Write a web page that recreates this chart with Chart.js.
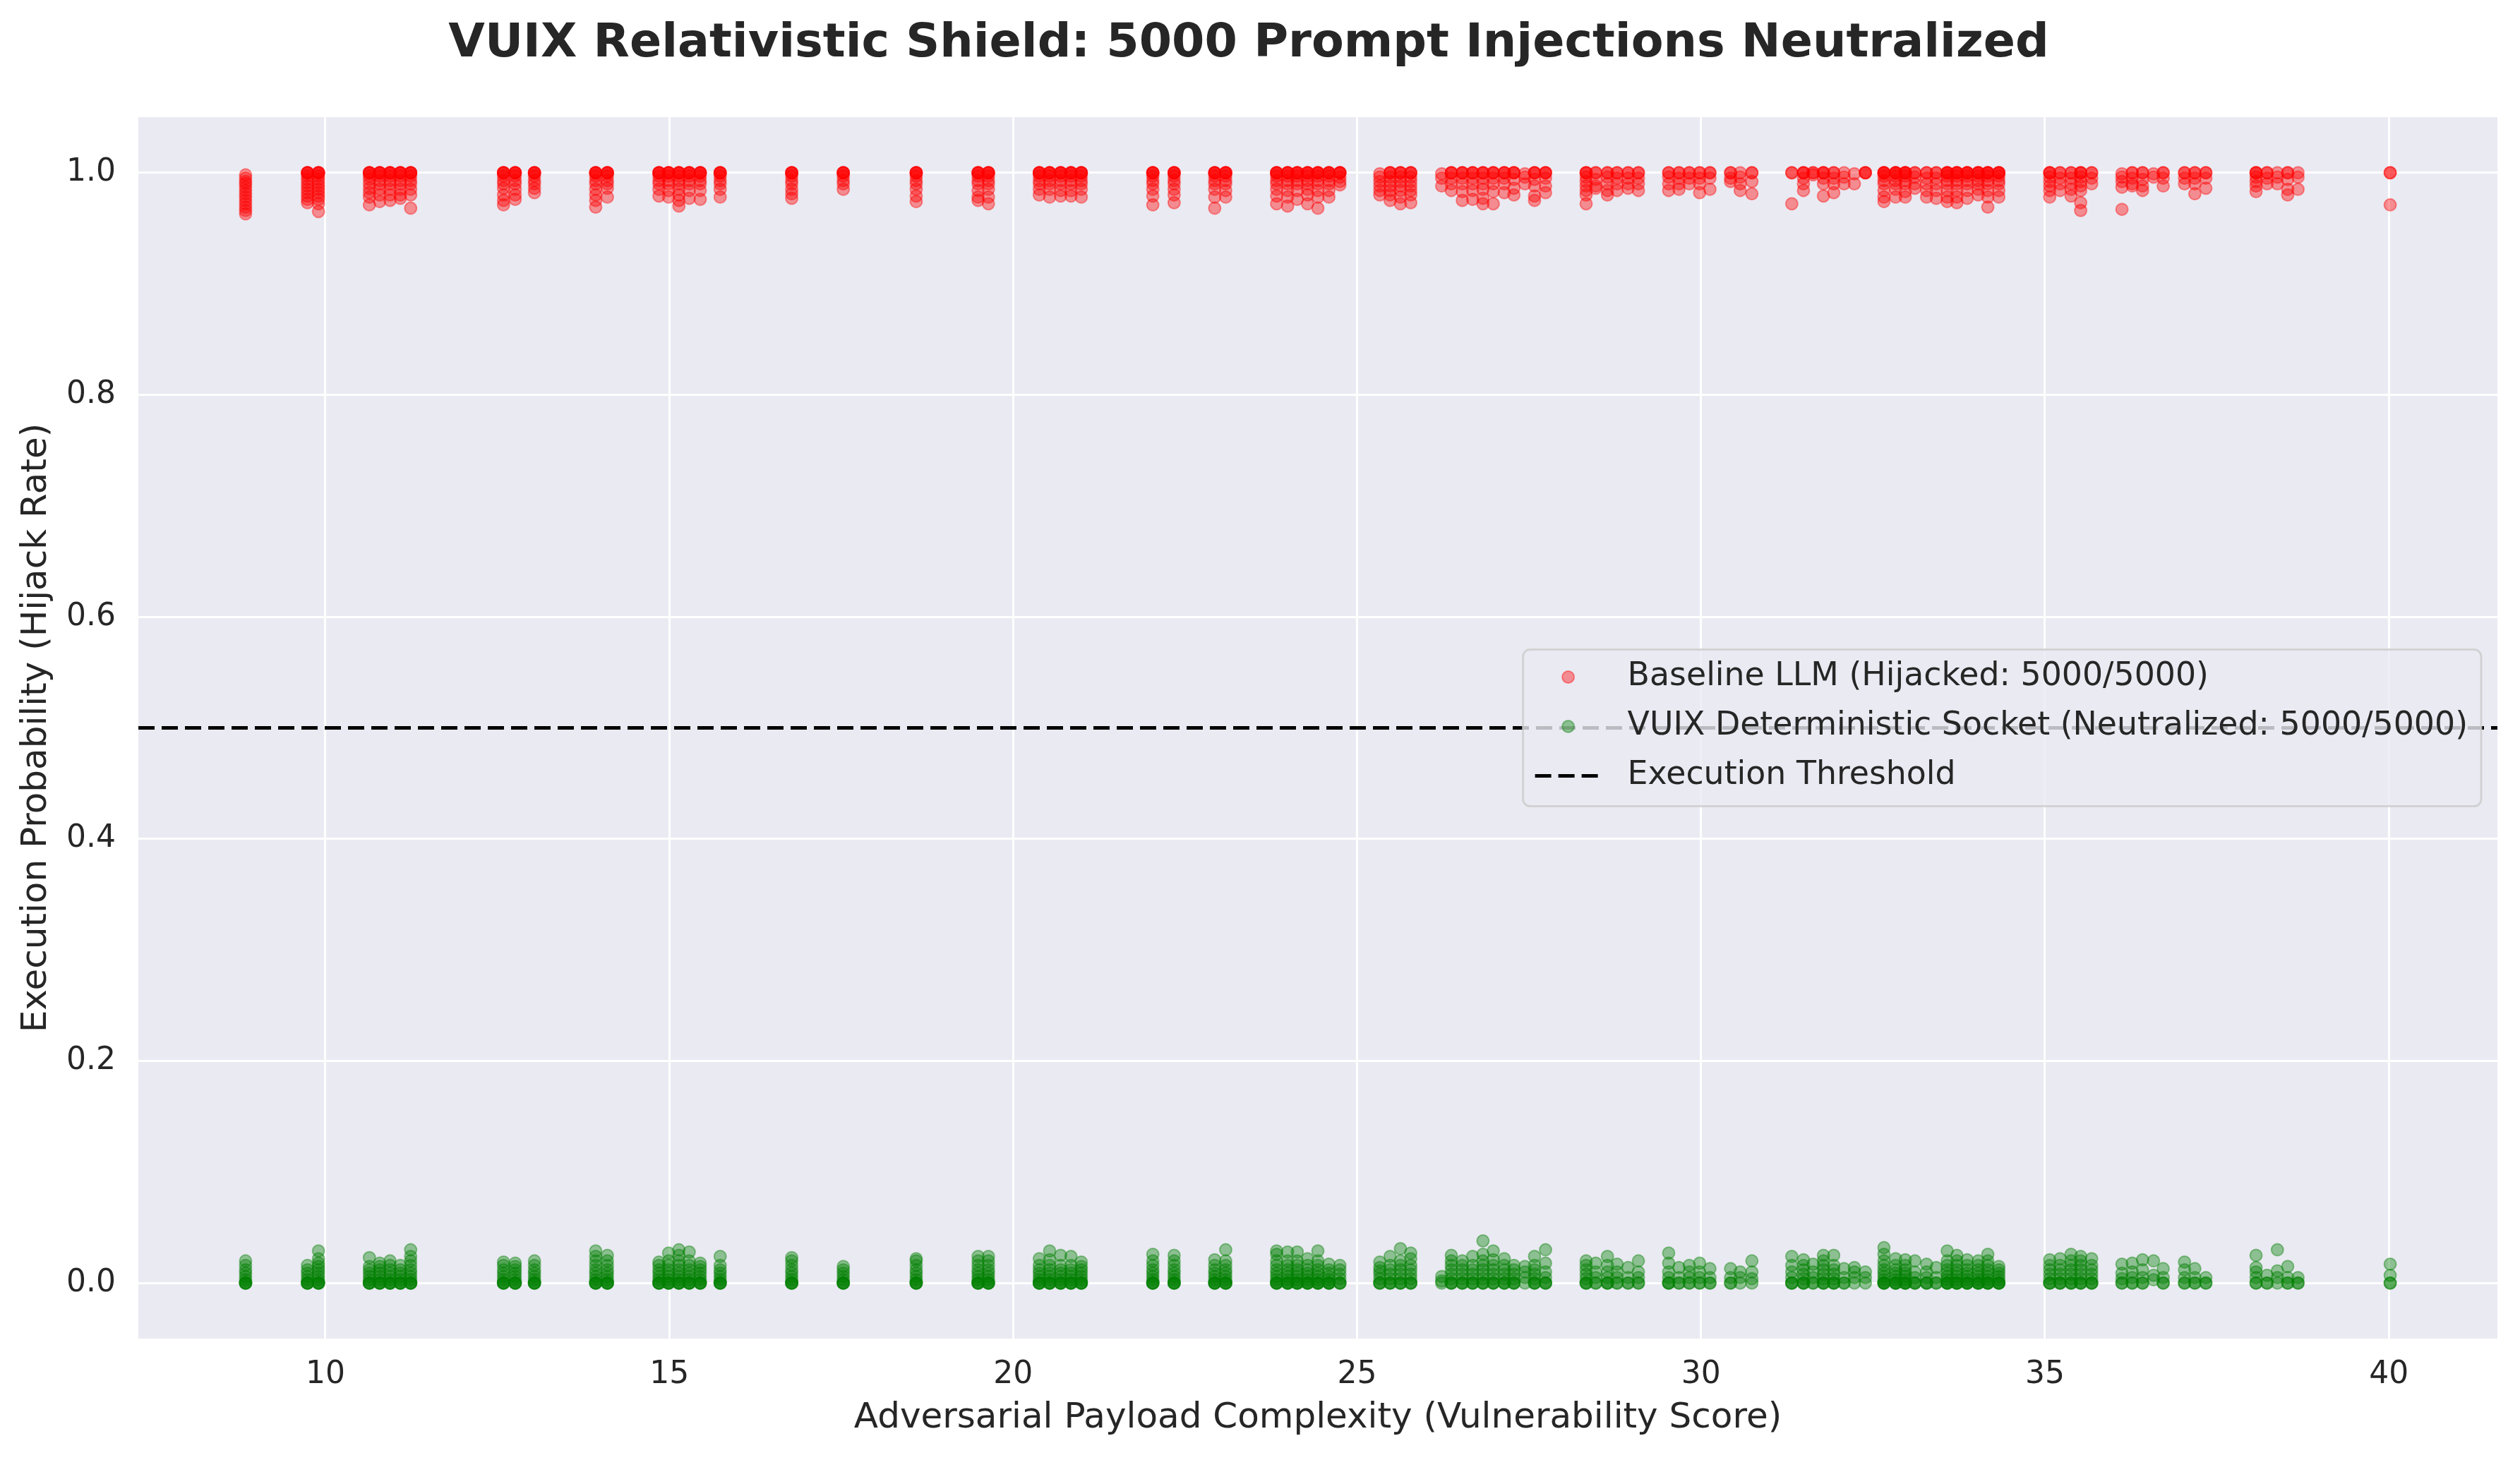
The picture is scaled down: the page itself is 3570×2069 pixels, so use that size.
<!DOCTYPE html>
<html>
<head>
<meta charset="utf-8">
<script src="https://cdn.jsdelivr.net/npm/chart.js@4.4.1/dist/chart.umd.min.js"></script>
<style>
  html, body { margin: 0; padding: 0; background: #ffffff; }
  #wrap { width: 3570px; height: 2069px; }
</style>
</head>
<body>
<div id="wrap"><canvas id="shield-chart"></canvas></div>
<script>
// vulnerability scores (x positions of the clusters)
var scores = [
  8.84, 9.74, 9.90, 10.64, 10.79, 10.94, 11.09, 11.24, 12.59, 12.76,
  13.04, 13.93, 14.10, 14.85, 14.99, 15.14, 15.29, 15.45, 15.74, 16.78,
  17.53, 18.59, 19.49, 19.64, 20.38, 20.53, 20.69, 20.84, 20.99, 22.03,
  22.34, 22.93, 23.09, 23.83, 23.99, 24.13, 24.28, 24.43, 24.59, 24.75,
  25.33, 25.48, 25.63, 25.78, 26.23, 26.37, 26.53, 26.68, 26.83, 26.98,
  27.14, 27.28, 27.44, 27.58, 27.74, 28.33, 28.47, 28.64, 28.78, 28.94,
  29.09, 29.53, 29.68, 29.83, 29.98, 30.13, 30.43, 30.57, 30.74, 31.32,
  31.49, 31.63, 31.78, 31.93, 32.08, 32.23, 32.39, 32.66, 32.83, 32.97,
  33.11, 33.28, 33.42, 33.58, 33.72, 33.87, 34.03, 34.17, 34.33, 35.07,
  35.22, 35.38, 35.52, 35.68, 36.12, 36.27, 36.42, 36.58, 36.72, 37.03,
  37.18, 37.34, 38.07, 38.23, 38.38, 38.53, 38.68, 40.02
];

// baseline LLM hijack rates, one list per score
var baselineRates = [
  [0.998,0.995,0.992,0.99,0.987,0.984,0.981,0.978,0.975,0.972,0.969,0.966,0.963], // 8.84
  [1,1,1,1,0.997,0.994,0.991,0.988,0.985,0.982,0.979,0.976,0.973],
  [1,1,1,1,0.997,0.994,0.991,0.988,0.985,0.982,0.979,0.976,0.972,0.965],
  [1,1,1,1,0.997,0.994,0.99,0.986,0.982,0.978,0.971],
  [1,1,1,1,0.997,0.993,0.99,0.985,0.98,0.974],
  [1,1,1,1,0.997,0.993,0.99,0.985,0.98,0.975],
  [1,1,1,1,0.997,0.993,0.99,0.985,0.98,0.977],
  [1,1,1,1,0.997,0.993,0.99,0.985,0.98,0.968],
  [1,1,1,1,0.997,0.993,0.99,0.986,0.98,0.975,0.971],
  [1,1,1,1,0.997,0.993,0.99,0.985,0.98,0.976], // 12.76
  [1,1,1,1,0.997,0.993,0.99,0.986,0.982],
  [1,1,1,1,0.997,0.993,0.99,0.985,0.98,0.975,0.969],
  [1,1,1,1,0.997,0.993,0.99,0.986,0.978],
  [1,1,1,1,0.997,0.993,0.99,0.985,0.979],
  [1,1,1,1,0.997,0.993,0.99,0.984,0.978],
  [1,1,1,1,0.997,0.993,0.99,0.985,0.98,0.975,0.97],
  [1,1,1,1,0.997,0.993,0.99,0.984,0.977],
  [1,1,1,1,0.997,0.993,0.99,0.984,0.976],
  [1,1,1,1,0.997,0.993,0.99,0.985,0.978],
  [1,1,1,1,0.997,0.993,0.99,0.985,0.981,0.977], // 16.78
  [1,1,1,1,0.997,0.993,0.99,0.985],
  [1,1,1,1,0.997,0.993,0.99,0.985,0.979,0.974],
  [1,1,1,1,0.997,0.993,0.99,0.984,0.978,0.975],
  [1,1,1,1,0.997,0.993,0.99,0.985,0.978,0.972],
  [1,1,1,1,0.997,0.993,0.99,0.985,0.98],
  [1,1,1,1,0.997,0.993,0.99,0.985,0.978],
  [1,1,1,1,0.997,0.993,0.99,0.984,0.979],
  [1,1,1,1,0.997,0.993,0.99,0.984,0.979],
  [1,1,1,1,0.997,0.993,0.99,0.985,0.978],
  [1,1,1,1,0.997,0.993,0.99,0.985,0.979,0.971], // 22.03
  [1,1,1,1,0.997,0.993,0.99,0.985,0.98,0.973],
  [1,1,1,1,0.997,0.993,0.99,0.985,0.978,0.968],
  [1,1,1,1,0.997,0.993,0.99,0.984,0.978],
  [1,1,1,1,0.997,0.993,0.99,0.985,0.979,0.972],
  [1,1,1,1,0.997,0.993,0.99,0.984,0.978,0.97],
  [1,1,1,1,0.997,0.993,0.99,0.984,0.976],
  [1,1,1,1,0.997,0.993,0.99,0.985,0.98,0.972],
  [1,1,1,1,0.997,0.993,0.99,0.984,0.978,0.968],
  [1,1,1,1,0.997,0.993,0.99,0.984,0.978],
  [1,1,1,1,0.996,0.992,0.989], // 24.75
  [0.999,0.996,0.992,0.988,0.984,0.98],
  [1,1,1,0.996,0.992,0.988,0.984,0.98,0.975],
  [1,1,1,0.996,0.992,0.988,0.984,0.978,0.972],
  [1,1,1,0.996,0.992,0.988,0.984,0.98,0.973],
  [0.999,0.995,0.988],
  [1,1,1,0.995,0.99,0.984],
  [1,1,1,0.995,0.99,0.983,0.975],
  [1,1,1,0.995,0.99,0.984,0.976],
  [1,1,1,0.995,0.99,0.985,0.977,0.972],
  [1,1,1,0.995,0.99,0.983,0.972], // 26.98
  [1,1,1,0.995,0.99,0.982],
  [1,1,1,0.994,0.986,0.98],
  [0.999,0.996,0.99],
  [1,1,1,0.994,0.988,0.979,0.975],
  [1,1,1,0.995,0.988,0.982],
  [1,1,1,0.996,0.992,0.988,0.984,0.98,0.972],
  [1,1,0.994,0.988,0.986],
  [1,1,0.996,0.99,0.984,0.98],
  [1,1,0.995,0.99,0.984],
  [1,1,0.995,0.99,0.986], // 28.94
  [1,1,0.995,0.99,0.984],
  [1,1,0.996,0.99,0.984],
  [1,1,0.995,0.99,0.985],
  [1,1,0.995,0.99],
  [1,1,0.995,0.99,0.982],
  [1,1,0.995,0.985],
  [1,1,0.995,0.992],
  [1,0.996,0.99,0.984],
  [1,1,0.992,0.981],
  [1,1,0.972], // 31.32
  [1,1,1,0.995,0.99,0.984],
  [1,1,0.998],
  [1,1,1,0.995,0.99,0.979],
  [1,1,0.995,0.99,0.982],
  [1,0.996,0.99],
  [0.999,0.99],
  [1,1,1],
  [1,1,1,1,0.997,0.993,0.99,0.984,0.978,0.974],
  [1,1,1,1,0.997,0.993,0.99,0.985,0.978],
  [1,1,1,1,0.997,0.993,0.99,0.983,0.978], // 32.97
  [1,1,0.996,0.99,0.986],
  [1,1,0.995,0.99,0.984,0.978],
  [1,1,0.995,0.99,0.984,0.977],
  [1,1,1,1,0.997,0.993,0.99,0.984,0.978,0.974],
  [1,1,1,1,0.997,0.993,0.99,0.984,0.978,0.973],
  [1,1,1,1,0.997,0.993,0.99,0.984,0.977],
  [1,1,1,1,0.997,0.993,0.99,0.985,0.98],
  [1,1,1,1,0.997,0.993,0.99,0.984,0.978,0.969],
  [1,1,1,1,0.997,0.993,0.99,0.984,0.978],
  [1,1,1,0.996,0.992,0.988,0.984,0.978], // 35.07
  [1,1,0.995,0.99,0.984],
  [1,1,0.995,0.99,0.985,0.979],
  [1,1,1,0.996,0.992,0.988,0.984,0.973,0.966],
  [1,1,0.995,0.99],
  [0.999,0.996,0.992,0.987,0.967],
  [1,1,0.995,0.99,0.988],
  [1,1,0.994,0.988,0.984],
  [0.999,0.996],
  [1,1,0.995,0.988],
  [1,1,0.995,0.99], // 37.03
  [1,1,0.995,0.99,0.981],
  [1,1,0.995,0.986],
  [1,1,1,0.996,0.992,0.988,0.983],
  [1,1,0.995,0.99],
  [1,0.996,0.99],
  [1,1,0.994,0.985,0.98],
  [1,0.996,0.985],
  [1,1,0.971] // 40.02
];

// VUIX socket execution rates, one list per score
var vuixRates = [
  [0,0,0,0,0.003,0.006,0.009,0.012,0.016,0.02], // 8.84
  [0,0,0,0,0.003,0.006,0.009,0.012,0.016],
  [0,0,0,0,0.003,0.006,0.009,0.012,0.015,0.018,0.022,0.029],
  [0,0,0,0,0.003,0.006,0.009,0.012,0.015,0.023],
  [0,0,0,0,0.003,0.006,0.009,0.012,0.015,0.018],
  [0,0,0,0,0.003,0.006,0.009,0.012,0.016,0.02],
  [0,0,0,0,0.003,0.006,0.009,0.012,0.016],
  [0,0,0,0,0.003,0.006,0.009,0.012,0.016,0.02,0.024,0.03],
  [0,0,0,0,0.003,0.006,0.009,0.012,0.016,0.019],
  [0,0,0,0,0.003,0.006,0.009,0.012,0.015,0.018], // 12.76
  [0,0,0,0,0.003,0.006,0.009,0.012,0.016,0.02],
  [0,0,0,0,0.003,0.006,0.009,0.012,0.016,0.02,0.024,0.029],
  [0,0,0,0,0.003,0.006,0.009,0.012,0.016,0.02,0.025],
  [0,0,0,0,0.003,0.006,0.009,0.012,0.016,0.019],
  [0,0,0,0,0.003,0.006,0.009,0.012,0.016,0.02,0.027],
  [0,0,0,0,0.003,0.006,0.009,0.012,0.016,0.02,0.025,0.03],
  [0,0,0,0,0.003,0.006,0.009,0.012,0.016,0.02,0.028],
  [0,0,0,0,0.003,0.006,0.009,0.012,0.015,0.018],
  [0,0,0,0,0.003,0.006,0.009,0.012,0.016,0.024],
  [0,0,0,0,0.003,0.006,0.009,0.012,0.016,0.02,0.023], // 16.78
  [0,0,0,0,0.003,0.006,0.009,0.012,0.015],
  [0,0,0,0,0.003,0.006,0.009,0.012,0.016,0.02,0.022],
  [0,0,0,0,0.003,0.006,0.009,0.012,0.016,0.02,0.024],
  [0,0,0,0,0.003,0.006,0.009,0.012,0.016,0.02,0.024],
  [0,0,0,0,0.003,0.006,0.009,0.012,0.016,0.022],
  [0,0,0,0,0.003,0.006,0.009,0.012,0.016,0.021,0.029],
  [0,0,0,0,0.003,0.006,0.009,0.012,0.016,0.025],
  [0,0,0,0,0.003,0.006,0.009,0.012,0.016,0.024],
  [0,0,0,0,0.003,0.006,0.009,0.012,0.015,0.019],
  [0,0,0,0,0.003,0.006,0.009,0.012,0.016,0.02,0.026], // 22.03
  [0,0,0,0,0.003,0.006,0.009,0.012,0.016,0.02,0.025],
  [0,0,0,0,0.003,0.006,0.009,0.012,0.016,0.021],
  [0,0,0,0,0.003,0.006,0.009,0.012,0.016,0.02,0.03],
  [0,0,0,0,0.003,0.006,0.009,0.012,0.016,0.02,0.026,0.029],
  [0,0,0,0,0.003,0.006,0.009,0.012,0.016,0.02,0.028],
  [0,0,0,0,0.003,0.006,0.009,0.012,0.016,0.02,0.028],
  [0,0,0,0,0.003,0.006,0.009,0.012,0.016,0.022],
  [0,0,0,0,0.003,0.006,0.009,0.012,0.016,0.02,0.029],
  [0,0,0,0,0.003,0.006,0.009,0.012,0.017],
  [0,0,0,0.004,0.008,0.012,0.016], // 24.75
  [0,0,0,0.004,0.008,0.011,0.014,0.019],
  [0,0,0,0.004,0.008,0.012,0.016,0.024],
  [0,0,0,0.004,0.008,0.012,0.016,0.02,0.031],
  [0,0,0,0.004,0.008,0.012,0.016,0.022,0.027],
  [0,0.002,0.006],
  [0,0,0,0.004,0.008,0.012,0.016,0.02,0.025],
  [0,0,0,0.004,0.008,0.012,0.016,0.02],
  [0,0,0,0.004,0.008,0.012,0.016,0.024],
  [0,0,0,0.004,0.008,0.012,0.016,0.02,0.026,0.038],
  [0,0,0,0.004,0.008,0.012,0.016,0.021,0.029], // 26.98
  [0,0,0,0.004,0.008,0.012,0.016,0.022],
  [0,0,0,0.004,0.008,0.012,0.016],
  [0,0.005,0.01,0.015],
  [0,0,0,0.004,0.008,0.012,0.016,0.024],
  [0,0,0,0.005,0.01,0.018,0.03],
  [0,0,0,0.004,0.008,0.012,0.016,0.02],
  [0,0,0.005,0.01,0.018],
  [0,0,0,0.005,0.01,0.016,0.024],
  [0,0,0.005,0.01,0.017],
  [0,0,0.005,0.014], // 28.94
  [0,0,0.005,0.01,0.02],
  [0,0,0,0.005,0.01,0.018,0.027],
  [0,0,0.005,0.014],
  [0,0,0.005,0.01,0.016],
  [0,0,0.005,0.01,0.018],
  [0,0,0.005,0.013],
  [0,0,0.005,0.013],
  [0,0.005,0.01],
  [0,0.004,0.01,0.02],
  [0,0,0,0.005,0.01,0.016,0.024], // 31.32
  [0,0,0,0.004,0.008,0.012,0.016,0.021],
  [0,0,0.005,0.01,0.017],
  [0,0,0,0.004,0.008,0.012,0.016,0.02,0.025],
  [0,0,0,0.004,0.008,0.012,0.016,0.025],
  [0,0,0.005,0.013],
  [0,0.005,0.01,0.014],
  [0,0.005,0.01],
  [0,0,0,0,0.003,0.006,0.009,0.012,0.016,0.02,0.026,0.032],
  [0,0,0,0,0.003,0.006,0.009,0.012,0.016,0.022],
  [0,0,0,0,0.003,0.006,0.009,0.012,0.016,0.021], // 32.97
  [0,0,0,0.005,0.01,0.02],
  [0,0,0,0.005,0.01,0.017],
  [0,0,0.005,0.014],
  [0,0,0,0,0.003,0.006,0.009,0.012,0.016,0.02,0.029],
  [0,0,0,0,0.003,0.006,0.009,0.012,0.016,0.02,0.025],
  [0,0,0,0,0.003,0.006,0.009,0.012,0.016,0.021],
  [0,0,0,0,0.003,0.006,0.009,0.012,0.016,0.02],
  [0,0,0,0,0.003,0.006,0.009,0.012,0.016,0.02,0.026],
  [0,0,0,0,0.003,0.006,0.009,0.012,0.015],
  [0,0,0,0.004,0.008,0.012,0.016,0.021], // 35.07
  [0,0,0,0.004,0.008,0.012,0.016,0.022],
  [0,0,0,0.004,0.008,0.012,0.016,0.02,0.026],
  [0,0,0,0.004,0.008,0.012,0.016,0.02,0.024],
  [0,0,0,0.004,0.008,0.012,0.016,0.022],
  [0,0,0.004,0.009,0.017],
  [0,0,0.005,0.01,0.018],
  [0,0,0.005,0.012,0.021],
  [0.003,0.007,0.02],
  [0,0,0.005,0.013],
  [0,0,0.005,0.012,0.019], // 37.03
  [0,0,0.005,0.013],
  [0,0,0.005],
  [0,0,0.005,0.01,0.014,0.025],
  [0,0,0.007],
  [0,0.005,0.011,0.03],
  [0,0,0.005,0.015],
  [0,0,0.005],
  [0,0,0.007,0.017] // 40.02
];

var thresholdValue = 0.5;
var xTicks = [10, 15, 20, 25, 30, 35, 40];
var yTicks = [0.0, 0.2, 0.4, 0.6, 0.8, 1.0];

var baselineLabel = 'Baseline LLM (Hijacked: 5000/5000)';
var vuixLabel = 'VUIX Deterministic Socket (Neutralized: 5000/5000)';
var thresholdLabel = 'Execution Threshold';

// matplotlib style 5% margins around the data
var xLo = Math.min.apply(null, scores), xHi = Math.max.apply(null, scores);
var xMin = xLo - (xHi - xLo) * 0.05, xMax = xHi + (xHi - xLo) * 0.05;
var yMin = -0.05, yMax = 1.05;

function toPoints(rates) {
    var pts = [];
    scores.forEach(function (s, i) {
        (rates[i] || []).forEach(function (r) { pts.push({ x: s, y: r }); });
    });
    return pts;
}

var textColor = '#262626';
var fontFamily = '"DejaVu Sans", "Liberation Sans", sans-serif';

// grey axes background like seaborn darkgrid
var plotBackground = {
    id: 'plotBackground',
    beforeDraw: function (chart) {
        var a = chart.chartArea, ctx = chart.ctx;
        ctx.save();
        ctx.fillStyle = '#EAEAF2';
        ctx.fillRect(a.left, a.top, a.right - a.left, a.bottom - a.top);
        ctx.restore();
    }
};

// legend drawn inside the axes, centre right
var insideLegend = {
    id: 'insideLegend',
    afterDraw: function (chart) {
        var ctx = chart.ctx, a = chart.chartArea;
        var sets = chart.data.datasets;
        ctx.save();
        ctx.font = '45.8px ' + fontFamily;
        var tw = 0;
        sets.forEach(function (d) { tw = Math.max(tw, ctx.measureText(d.label).width); });
        var w = tw + 148 + 19, h = 222, rowH = 70;
        var x = a.right - 23 - w;
        var y = (a.top + a.bottom) / 2 - h / 2;
        ctx.beginPath();
        ctx.roundRect(x, y, w, h, 10);
        ctx.fillStyle = 'rgba(234,234,242,0.8)';
        ctx.fill();
        ctx.lineWidth = 3;
        ctx.strokeStyle = 'rgba(204,204,204,0.8)';
        ctx.stroke();
        sets.forEach(function (d, i) {
            var cy = y + 39 + i * rowH;
            if (d.type === 'line') {
                ctx.beginPath();
                ctx.setLineDash(d.borderDash);
                ctx.lineWidth = d.borderWidth;
                ctx.strokeStyle = d.borderColor;
                ctx.moveTo(x + 17, cy);
                ctx.lineTo(x + 109, cy);
                ctx.stroke();
                ctx.setLineDash([]);
            } else {
                ctx.beginPath();
                ctx.arc(x + 64, cy, d.pointRadius, 0, Math.PI * 2);
                ctx.fillStyle = d.backgroundColor;
                ctx.fill();
                ctx.lineWidth = d.borderWidth;
                ctx.strokeStyle = d.borderColor;
                ctx.stroke();
            }
            ctx.fillStyle = textColor;
            ctx.textAlign = 'left';
            ctx.textBaseline = 'middle';
            ctx.fillText(d.label, x + 148, cy);
        });
        ctx.restore();
    }
};

var ctx = document.getElementById('shield-chart').getContext('2d');

var config = {
    type: 'scatter',
    data: {
        datasets: [{
            label: baselineLabel,
            data: toPoints(baselineRates),
            backgroundColor: 'rgba(255,0,0,0.4)',
            borderColor: 'rgba(255,0,0,0.4)',
            borderWidth: 2,
            pointRadius: 8.5
        }, {
            label: vuixLabel,
            data: toPoints(vuixRates),
            backgroundColor: 'rgba(0,128,0,0.4)',
            borderColor: 'rgba(0,128,0,0.4)',
            borderWidth: 2,
            pointRadius: 8.5
        }, {
            type: 'line',
            label: thresholdLabel,
            data: [{ x: xMin, y: thresholdValue }, { x: xMax, y: thresholdValue }],
            borderColor: '#000000',
            borderWidth: 5,
            borderDash: [23, 10],
            pointRadius: 0,
            fill: false
        }]
    },
    options: {
        responsive: true,
        maintainAspectRatio: false,
        animation: false,
        devicePixelRatio: 1,
        layout: { padding: { left: 0, right: 32, top: 0, bottom: 0 } },
        plugins: {
            legend: { display: false },
            tooltip: { enabled: false },
            title: {
                display: true,
                text: 'VUIX Relativistic Shield: 5000 Prompt Injections Neutralized',
                color: textColor,
                font: { family: fontFamily, size: 66.7, weight: 'bold' },
                padding: { top: 23, bottom: 63 }
            }
        },
        scales: {
            x: {
                type: 'linear',
                min: xMin,
                max: xMax,
                afterBuildTicks: function (scale) {
                    scale.ticks = xTicks.map(function (v) { return { value: v }; });
                },
                afterFit: function (scale) { scale.height = 172; },
                grid: { color: '#ffffff', lineWidth: 3, drawTicks: false },
                border: { display: false },
                ticks: {
                    color: textColor,
                    padding: 25,
                    font: { family: fontFamily, size: 44 },
                    callback: function (v) { return String(v); }
                },
                title: {
                    display: true,
                    text: 'Adversarial Payload Complexity (Vulnerability Score)',
                    color: textColor,
                    font: { family: fontFamily, size: 50 },
                    padding: { top: 0, bottom: 29 }
                }
            },
            y: {
                type: 'linear',
                min: yMin,
                max: yMax,
                afterBuildTicks: function (scale) {
                    scale.ticks = yTicks.map(function (v) { return { value: v }; });
                },
                afterFit: function (scale) { scale.width = 196; },
                grid: { color: '#ffffff', lineWidth: 3, drawTicks: false },
                border: { display: false },
                ticks: {
                    color: textColor,
                    padding: 32,
                    font: { family: fontFamily, size: 44 },
                    callback: function (v) { return v.toFixed(1); }
                },
                title: {
                    display: true,
                    text: 'Execution Probability (Hijack Rate)',
                    color: textColor,
                    font: { family: fontFamily, size: 50 },
                    padding: { top: 22, bottom: 0 }
                }
            }
        }
    },
    plugins: [plotBackground, insideLegend]
};

new Chart(ctx, config);
</script>
</body>
</html>
